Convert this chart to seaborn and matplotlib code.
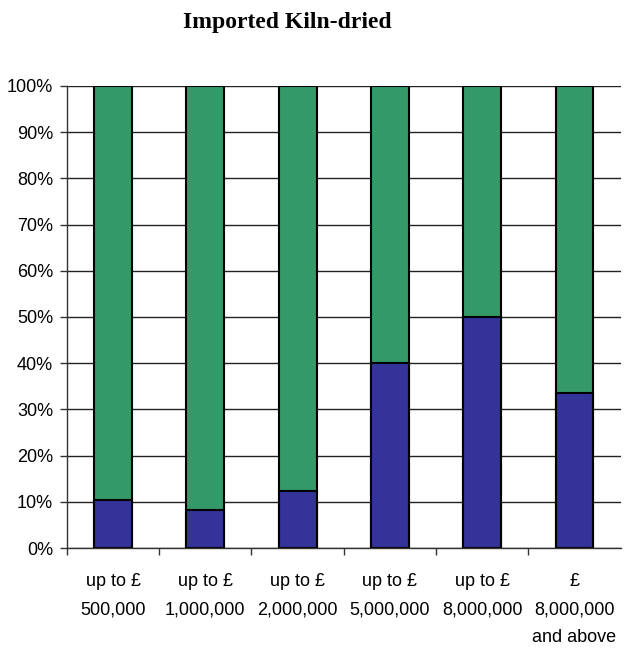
import pandas as pd
import seaborn as sns
import matplotlib.pyplot as plt

# Sawmill size bands and the share of imported kiln-dried (blue) vs rest (green)
categories = ['up to £\n500,000', 'up to £\n1,000,000', 'up to £\n2,000,000',
              'up to £\n5,000,000', 'up to £\n8,000,000', '£\n8,000,000\nand above']
blue_share = [10.3, 8.2, 12.4, 40.0, 50.0, 33.5]
green_share = [100 - b for b in blue_share]

df = pd.DataFrame({'band': categories, 'blue': blue_share, 'green': green_share})
df['total'] = df['blue'] + df['green']

sns.set_style('white')
plt.rcParams['font.family'] = ['Liberation Sans', 'DejaVu Sans']
plt.rcParams['text.color'] = 'black'
plt.rcParams['xtick.color'] = 'black'
plt.rcParams['ytick.color'] = 'black'

fig = plt.figure(figsize=(6.25, 6.49), dpi=100)
ax = fig.add_axes([0.107, 0.1556, 0.886, 0.712])

sns.barplot(data=df, x='band', y='total', color='#339966', width=0.41,
            edgecolor='black', linewidth=1.5, saturation=1, ax=ax)
sns.barplot(data=df, x='band', y='blue', color='#333399', width=0.41,
            edgecolor='black', linewidth=1.5, saturation=1, ax=ax)

ax.set_xlim(-0.5, 5.5)
ax.set_ylim(0, 100)
ax.set_yticks(range(0, 101, 10))
ax.set_yticklabels([f'{v}%' for v in range(0, 101, 10)])
ax.yaxis.grid(True, color='#222222', linewidth=1)
ax.set_axisbelow(True)

# x ticks at category boundaries, labels centred on bars
ax.set_xticks([i - 0.5 for i in range(6)])
ax.set_xticklabels([])
ax.set_xticks(range(6), minor=True)
ax.set_xticklabels(categories, minor=True, fontsize=13, linespacing=1.85, va='top')
ax.tick_params(axis='x', which='minor', length=0, pad=18)
ax.tick_params(axis='x', which='major', direction='out', length=5, width=1, color='#333333', bottom=True)
ax.tick_params(axis='y', direction='out', length=5, width=1, color='#333333', left=True,
               labelsize=13, pad=5)

ax.set_xlabel('')
ax.set_ylabel('')
for s in ['top', 'right']:
    ax.spines[s].set_visible(False)
for s in ['left', 'bottom']:
    ax.spines[s].set_color('#333333')
    ax.spines[s].set_linewidth(1)

fig.text(0.46, 0.966, 'Imported Kiln-dried', ha='center', va='center',
         fontsize=17, fontweight='bold', family='Liberation Serif')

fig.savefig('out.png', dpi=100)
